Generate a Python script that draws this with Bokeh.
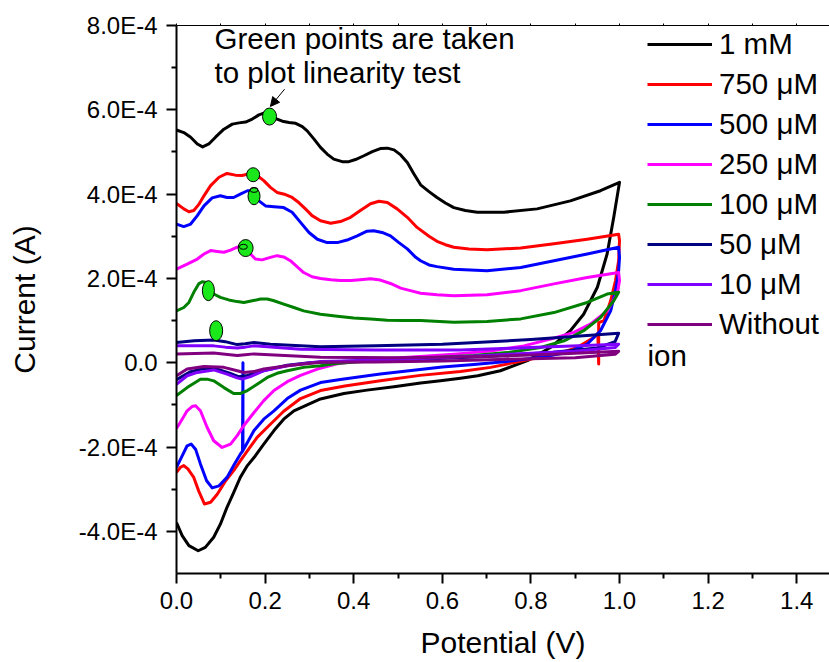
import numpy as np
from bokeh.plotting import figure
from bokeh.models import (ColumnDataSource, Range1d, FixedTicker, LinearAxis,
                          CustomJSTickFormatter, PrintfTickFormatter, Legend,
                          LegendItem, Label, Arrow, NormalHead)
from bokeh.embed import file_html
from bokeh.resources import INLINE

# ---------------- data (potential in V, current in units of 1E-4 A) ----------------
labels = ["1 mM", "750 \u03bcM", "500 \u03bcM", "250 \u03bcM", "100 \u03bcM",
          "50 \u03bcM", "10 \u03bcM", "Without"]
colors = ["#000000", "#ff0000", "#0000ff", "#ff00ff", "#008000",
          "#000080", "#8000ff", "#800080"]

x_1mM = [0.0, 0.0165, 0.032, 0.047, 0.059, 0.073, 0.088, 0.107, 0.126, 0.141, 0.156, 0.171,
         0.186, 0.197, 0.212, 0.227, 0.239, 0.254, 0.269, 0.284, 0.295, 0.31, 0.325, 0.34,
         0.355, 0.374, 0.389, 0.404, 0.423, 0.442, 0.46, 0.476, 0.491, 0.506, 0.521, 0.536,
         0.551, 0.57, 0.588, 0.607, 0.626, 0.652, 0.679, 0.739, 0.814, 0.889, 0.957, 1.0,
         0.987, 0.972, 0.95, 0.919, 0.889, 0.844, 0.792, 0.731, 0.68, 0.641, 0.596, 0.551,
         0.491, 0.43, 0.378, 0.325, 0.295, 0.265, 0.242, 0.22, 0.197, 0.175, 0.16, 0.144,
         0.129, 0.114, 0.099, 0.084, 0.065, 0.049, 0.028, 0.0128, 0.0]
y_1mM = [5.52, 5.46, 5.35, 5.19, 5.12, 5.19, 5.35, 5.54, 5.66, 5.69, 5.71, 5.78,
         5.88, 5.92, 5.86, 5.78, 5.73, 5.70, 5.68, 5.60, 5.50, 5.31, 5.11, 4.95,
         4.83, 4.77, 4.77, 4.82, 4.91, 5.01, 5.08, 5.09, 5.05, 4.93, 4.75, 4.48,
         4.22, 4.06, 3.92, 3.79, 3.68, 3.61, 3.57, 3.57, 3.65, 3.84, 4.08, 4.28,
         3.45, 2.58, 1.79, 1.15, 0.76, 0.36, 0.05, -0.19, -0.31, -0.37, -0.43, -0.48,
         -0.57, -0.65, -0.73, -0.86, -1.0, -1.14, -1.34, -1.61, -1.93, -2.25, -2.44, -2.72,
         -3.08, -3.43, -3.83, -4.14, -4.38, -4.46, -4.34, -4.10, -3.79]

x_750 = [0.0, 0.0165, 0.028, 0.039, 0.05, 0.062, 0.077, 0.096, 0.114, 0.133, 0.148, 0.163,
         0.182, 0.197, 0.212, 0.227, 0.246, 0.261, 0.276, 0.291, 0.306, 0.325, 0.348, 0.37,
         0.393, 0.415, 0.438, 0.457, 0.476, 0.498, 0.521, 0.543, 0.57, 0.588, 0.607, 0.626,
         0.66, 0.701, 0.777, 0.852, 0.927, 0.998,
         1.0, 0.998, 0.991, 0.98, 0.965, 0.953, 0.953, 0.951, 0.942, 0.904, 0.859, 0.784,
         0.709, 0.641, 0.55, 0.46, 0.38, 0.325, 0.28, 0.242, 0.205, 0.182, 0.16, 0.144,
         0.129, 0.111, 0.092, 0.077, 0.063, 0.05, 0.039, 0.0256, 0.0165, 0.009, 0.0]
y_750 = [3.78, 3.65, 3.58, 3.61, 3.75, 3.96, 4.20, 4.40, 4.49, 4.45, 4.44, 4.48,
         4.44, 4.32, 4.16, 4.04, 3.99, 3.92, 3.80, 3.65, 3.49, 3.37, 3.31, 3.35,
         3.45, 3.61, 3.77, 3.83, 3.80, 3.65, 3.45, 3.21, 3.0, 2.88, 2.80, 2.74,
         2.70, 2.68, 2.72, 2.82, 2.93, 3.05,
         2.9, 2.42, 1.95, 1.47, 1.0, 0.95, -0.03, 0.7, 0.6, 0.36, 0.21, 0.05,
         -0.11, -0.21, -0.3, -0.43, -0.55, -0.66, -0.85, -1.15, -1.53, -1.77, -2.09, -2.33,
         -2.56, -2.80, -3.12, -3.31, -3.35, -3.04, -2.72, -2.52, -2.44, -2.48, -2.60]

x_500 = [0.0, 0.0165, 0.032, 0.047, 0.062, 0.0805, 0.099, 0.114, 0.129, 0.144, 0.16, 0.175,
         0.186, 0.201, 0.22, 0.242, 0.261, 0.28, 0.299, 0.318, 0.34, 0.363, 0.385, 0.408,
         0.43, 0.445, 0.464, 0.483, 0.502, 0.521, 0.54, 0.551, 0.57, 0.588, 0.626, 0.701,
         0.777, 0.852, 0.927, 0.998,
         1.0, 0.998, 0.991, 0.98, 0.957, 0.927, 0.882, 0.822, 0.746, 0.671, 0.6, 0.46,
         0.37, 0.325, 0.28, 0.25, 0.22, 0.197, 0.175, 0.16, 0.15, 0.15, 0.149, 0.144,
         0.129, 0.114, 0.096, 0.0805, 0.068, 0.054, 0.043, 0.033, 0.024, 0.0128, 0.0]
y_500 = [3.29, 3.23, 3.29, 3.49, 3.72, 3.91, 3.96, 3.92, 3.92, 4.0, 4.08, 4.08,
         3.84, 3.72, 3.70, 3.68, 3.57, 3.33, 3.09, 2.93, 2.85, 2.85, 2.91, 3.01,
         3.12, 3.13, 3.09, 3.01, 2.85, 2.70, 2.50, 2.42, 2.32, 2.28, 2.22, 2.18,
         2.26, 2.42, 2.58, 2.74,
         2.5, 2.18, 1.71, 1.23, 0.76, 0.44, 0.24, 0.13, 0.03, -0.04, -0.1, -0.27,
         -0.4, -0.47, -0.65, -0.85, -1.14, -1.34, -1.61, -1.89, -2.08, 0.0, -2.1, -2.17,
         -2.44, -2.72, -2.92, -2.97, -2.80, -2.40, -2.05, -1.93, -1.97, -2.21, -2.48]

x_250 = [0.0, 0.024, 0.047, 0.062, 0.077, 0.092, 0.107, 0.122, 0.137, 0.148, 0.167, 0.178,
         0.193, 0.212, 0.227, 0.242, 0.257, 0.272, 0.287, 0.306, 0.325, 0.348, 0.37, 0.393,
         0.415, 0.438, 0.46, 0.483, 0.506, 0.528, 0.551, 0.588, 0.626, 0.701, 0.777, 0.852,
         0.927, 0.998,
         1.0, 0.995, 0.972, 0.935, 0.897, 0.844, 0.784, 0.709, 0.634, 0.55, 0.45, 0.4,
         0.36, 0.318, 0.28, 0.25, 0.22, 0.197, 0.175, 0.152, 0.137, 0.122, 0.103, 0.084,
         0.069, 0.054, 0.043, 0.035, 0.024, 0.0128, 0.0]
y_250 = [2.22, 2.34, 2.46, 2.58, 2.66, 2.64, 2.62, 2.67, 2.74, 2.76, 2.58, 2.46,
         2.44, 2.50, 2.54, 2.51, 2.42, 2.28, 2.14, 2.04, 2.0, 1.97, 1.95, 1.95,
         1.97, 1.99, 1.96, 1.88, 1.77, 1.71, 1.65, 1.61, 1.59, 1.61, 1.71, 1.87,
         2.02, 2.14,
         1.95, 1.63, 1.23, 0.92, 0.72, 0.56, 0.40, 0.28, 0.21, 0.15, 0.08, 0.03,
         -0.03, -0.15, -0.3, -0.45, -0.66, -0.90, -1.18, -1.49, -1.73, -1.93, -2.01, -1.85,
         -1.53, -1.14, -1.02, -1.04, -1.14, -1.34, -1.56]

x_100 = [0.0, 0.0165, 0.028, 0.039, 0.05, 0.058, 0.065, 0.072, 0.084, 0.099, 0.118, 0.137,
         0.152, 0.171, 0.19, 0.205, 0.22, 0.242, 0.265, 0.287, 0.325, 0.363, 0.4, 0.438,
         0.476, 0.513, 0.551, 0.626, 0.701, 0.777, 0.852, 0.927, 0.972, 0.998,
         0.987, 0.957, 0.919, 0.875, 0.822, 0.746, 0.671, 0.596, 0.5, 0.42, 0.36, 0.325,
         0.287, 0.25, 0.227, 0.205, 0.182, 0.16, 0.144, 0.129, 0.107, 0.084, 0.069, 0.054,
         0.024, 0.0]
y_100 = [1.23, 1.31, 1.43, 1.67, 1.87, 1.92, 1.91, 1.76, 1.63, 1.55, 1.49, 1.45,
         1.43, 1.47, 1.51, 1.51, 1.47, 1.39, 1.31, 1.23, 1.15, 1.10, 1.06, 1.04,
         1.01, 1.0, 1.0, 0.96, 0.98, 1.04, 1.19, 1.43, 1.63, 1.67,
         1.47, 1.07, 0.76, 0.52, 0.36, 0.24, 0.17, 0.13, 0.08, 0.03, -0.02, -0.07,
         -0.11, -0.19, -0.25, -0.35, -0.51, -0.66, -0.73, -0.73, -0.59, -0.43, -0.39, -0.39,
         -0.59, -0.78]

x_50 = [0.0, 0.04, 0.084, 0.11, 0.137, 0.155, 0.175, 0.212, 0.325, 0.45, 0.6, 0.8, 0.998,
        0.99, 0.95, 0.85, 0.7, 0.55, 0.4, 0.3, 0.25, 0.2, 0.16, 0.14, 0.12, 0.09, 0.06,
        0.03, 0.0]
y_50 = [0.48, 0.52, 0.54, 0.50, 0.43, 0.45, 0.48, 0.44, 0.38, 0.40, 0.44, 0.55, 0.70,
        0.50, 0.35, 0.25, 0.15, 0.08, 0.04, 0.0, -0.06, -0.18, -0.3, -0.33, -0.25, -0.15,
        -0.14, -0.22, -0.4]

x_10 = [0.0, 0.084, 0.11, 0.137, 0.155, 0.175, 0.28, 0.45, 0.641, 0.8, 0.998,
        0.99, 0.9, 0.75, 0.6, 0.45, 0.325, 0.25, 0.197, 0.167, 0.148, 0.137, 0.114, 0.084,
        0.047, 0.024, 0.0]
y_10 = [0.40, 0.40, 0.37, 0.35, 0.37, 0.40, 0.32, 0.30, 0.30, 0.36, 0.44,
        0.36, 0.27, 0.20, 0.12, 0.06, 0.03, -0.07, -0.19, -0.33, -0.39, -0.36, -0.27, -0.17,
        -0.23, -0.31, -0.51]

x_blank = [0.0, 0.084, 0.11, 0.137, 0.155, 0.175, 0.325, 0.5, 0.7, 0.85, 0.998,
           0.99, 0.9, 0.75, 0.6, 0.45, 0.325, 0.25, 0.197, 0.175, 0.152, 0.137, 0.107,
           0.062, 0.024, 0.0]
y_blank = [0.21, 0.23, 0.20, 0.17, 0.19, 0.21, 0.13, 0.12, 0.15, 0.20, 0.27,
           0.20, 0.12, 0.08, 0.04, 0.02, 0.01, -0.07, -0.15, -0.21, -0.23, -0.19, -0.11,
           -0.09, -0.15, -0.31]

# green points taken for the linearity test
pts_x = [0.21, 0.173, 0.175, 0.156, 0.072, 0.0895]
pts_y = [5.84, 4.46, 3.95, 2.72, 1.71, 0.76]
pts_w = [14, 13, 12, 15, 12, 13]
pts_h = [17, 14, 17, 17, 20, 20]
inner_x = [0.175, 0.151]
inner_y = [4.1, 2.75]

xs_all = [x_1mM, x_750, x_500, x_250, x_100, x_50, x_10, x_blank]
ys_all = [y_1mM, y_750, y_500, y_250, y_100, y_50, y_10, y_blank]

SCALE = 1e-4
FONT = "Liberation Sans"

p = figure(width=829, height=662, output_backend="svg", toolbar_location=None,
           x_range=Range1d(0.0, 1.474), y_range=Range1d(-5e-4, 8e-4),
           min_border_left=176, min_border_right=0, min_border_top=25,
           min_border_bottom=89)
p.outline_line_color = None
p.xgrid.visible = False
p.ygrid.visible = False
p.background_fill_color = "white"
p.border_fill_color = "white"

# axes
xa = p.xaxis[0]
xa.ticker = FixedTicker(ticks=[0.0, 0.2, 0.4, 0.6, 0.8, 1.0, 1.2, 1.4],
                        minor_ticks=[0.1, 0.3, 0.5, 0.7, 0.9, 1.1, 1.3])
xa.formatter = PrintfTickFormatter(format="%.1f")
ya = p.yaxis[0]
ya.ticker = FixedTicker(ticks=[-4e-4, -2e-4, 0.0, 2e-4, 4e-4, 6e-4, 8e-4],
                        minor_ticks=[-3e-4, -1e-4, 1e-4, 3e-4, 5e-4, 7e-4])
ya.formatter = CustomJSTickFormatter(code="""
if (Math.abs(tick) < 1e-12) { return "0.0"; }
const e = Math.floor(Math.log10(Math.abs(tick)) + 1e-9);
const m = tick / Math.pow(10, e);
return m.toFixed(1) + "E" + e;
""")
for ax in (xa, ya):
    ax.axis_line_width = 2
    ax.major_tick_line_width = 2
    ax.minor_tick_line_width = 2
    ax.major_tick_out = 10
    ax.major_tick_in = 0
    ax.minor_tick_out = 5
    ax.minor_tick_in = 0
    ax.major_label_text_font = FONT
    ax.major_label_text_font_size = "24px"
    ax.major_label_text_color = "black"
    ax.axis_label_text_font = FONT
    ax.axis_label_text_font_size = "30px"
    ax.axis_label_text_font_style = "normal"
    ax.axis_label_text_color = "black"
xa.axis_label = "Potential (V)"
ya.axis_label = "Current (A)"
xa.major_label_standoff = 8
xa.axis_label_standoff = 14
ya.major_label_standoff = 9
ya.axis_label_standoff = 35

top = LinearAxis(ticker=FixedTicker(ticks=[], minor_ticks=[round(0.1 * i, 1) for i in range(15)]),
                 axis_line_width=1, minor_tick_out=2, minor_tick_in=0,
                 major_tick_out=0, major_tick_in=0, major_label_standoff=0)
p.add_layout(top, "above")

# curves
renderers = []
for xs, ys, c in zip(xs_all, ys_all, colors):
    src = ColumnDataSource(dict(x=xs, y=[v * SCALE for v in ys]))
    r = p.line("x", "y", source=src, line_color=c, line_width=3, line_join="round")
    renderers.append(r)

# green points
gsrc = ColumnDataSource(dict(x=pts_x, y=[v * SCALE for v in pts_y], w=pts_w, h=pts_h))
p.ellipse(x="x", y="y", width="w", height="h", width_units="screen", height_units="screen",
          source=gsrc, fill_color="#1be81b", line_color="black", line_width=1)
isrc = ColumnDataSource(dict(x=inner_x, y=[v * SCALE for v in inner_y]))
p.ellipse(x="x", y="y", width=8, height=5, width_units="screen", height_units="screen",
          source=isrc, fill_color=None, line_color="black", line_width=1)

# annotation
p.add_layout(Label(x=0.0858, y=7.68e-4, text="Green points are taken", text_font=FONT,
                   text_font_size="29.5px", text_color="black", text_baseline="alphabetic"))
p.add_layout(Label(x=0.0858, y=6.88e-4, text="to plot linearity test", text_font=FONT,
                   text_font_size="29.5px", text_color="black", text_baseline="alphabetic"))
p.add_layout(Arrow(x_start=0.244, y_start=6.49e-4, x_end=0.212, y_end=6.08e-4,
                   line_color="black", line_width=1,
                   end=NormalHead(size=9, fill_color="black", line_color="black")))

# legend
legend = Legend(items=[LegendItem(label=l, renderers=[r]) for l, r in zip(labels, renderers)],
                location=(471, 229), orientation="vertical",
                glyph_width=65, glyph_height=40, label_height=40, spacing=0,
                padding=0, margin=0, label_standoff=7,
                label_text_font=FONT, label_text_font_size="29.5px", label_text_color="black",
                border_line_color=None, background_fill_alpha=0)
p.add_layout(legend, "center")
p.add_layout(Label(x=1.063, y=0.166e-4, text="ion", text_font=FONT, text_font_size="29.5px",
                   text_color="black", text_baseline="middle"))

open("out.html", "w").write(file_html(p, INLINE))
